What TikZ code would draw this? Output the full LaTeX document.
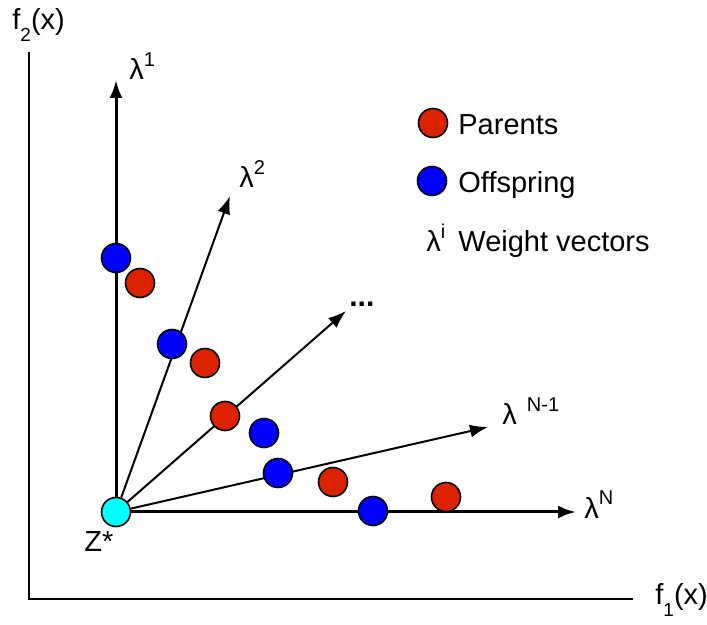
\documentclass[tikz,border=0pt]{standalone}
\usepackage{fontspec}
\setmainfont{Liberation Sans}
\usetikzlibrary{arrows.meta,positioning}
\definecolor{parentred}{RGB}{221,34,0}
\definecolor{offblue}{RGB}{0,0,255}
\definecolor{idealcyan}{RGB}{0,255,255}
\newcommand{\wsup}[1]{\raisebox{6.5pt}{\fontsize{10}{10}\selectfont #1}}
\newcommand{\wsub}[1]{\raisebox{-6pt}{\fontsize{9.5}{10}\selectfont #1}}

\begin{document}
\begin{tikzpicture}[x=0.5pt, y=-0.5pt,
    parent/.style={circle, draw, line width=0.8pt, fill=parentred, minimum size=14.5pt, inner sep=0pt},
    offspring/.style={circle, draw, line width=0.8pt, fill=offblue, minimum size=14.5pt, inner sep=0pt},
    ideal/.style={circle, draw, line width=0.8pt, fill=idealcyan, minimum size=14.5pt, inner sep=0pt},
    vec/.style={-{Latex[length=9pt,width=6.5pt]}, line width=1pt},
    axis/.style={line width=1.2pt},
    lbl/.style={font=\fontsize{14.5}{16}\selectfont, inner sep=0pt, anchor=base west}
]
\useasboundingbox (0,0) rectangle (707,625);

% axes
\coordinate (ytop) at (29,52);
\coordinate (xend) at (633,599);
\draw[axis] (ytop) |- (xend);
\node[lbl] (f2) at (12,30) {f\wsub{2}(x)};
\node[lbl] (f1) at (655,604) {f\wsub{1}(x)};

% reference point and weight vectors
\node[ideal] (z) at (116,512) {};
\node[lbl] (zlbl) at (84,552) {Z*};
\coordinate (w1) at (116,80);
\coordinate (w2) at (230,196);
\coordinate (w3) at (346,311);
\coordinate (w4) at (488,427);
\coordinate (w5) at (576,512);
\draw[vec, line width=1.5pt] (z) -- (w1);
\draw[vec] (z) -- (w2);
\draw[vec] (z) -- (w3);
\draw[vec] (z) -- (w4);
\draw[vec, line width=1.5pt] (z) -- (w5);
\node[lbl] (l1) at (129,80) {λ\wsup{1}};
\node[lbl] (l2) at (239,188) {λ\wsup{2}};
\node[lbl, font=\fontsize{15}{16}\selectfont\bfseries] (l3) at (349,307) {...};
\node[lbl] (l4) at (502,425) {λ\hspace{5pt}\wsup{N-1}};
\node[lbl] (l5) at (584,518) {λ\wsup{N}};

% population
\node[offspring] (o1) at (116,258) {};
\node[parent] (p1) at (140,283) {};
\node[offspring] (o2) at (172,344) {};
\node[parent] (p2) at (205,363) {};
\node[parent] (p3) at (225,416) {};
\node[offspring] (o3) at (264,433) {};
\node[offspring] (o4) at (278,473) {};
\node[parent] (p4) at (333,482) {};
\node[offspring] (o5) at (373,511) {};
\node[parent] (p5) at (446,497) {};

% legend
\node[parent] (legp) at (433,123) {};
\node[lbl] (legptxt) at (458,135) {Parents};
\node[offspring] (lego) at (432,181) {};
\node[lbl] (legotxt) at (458,193) {Offspring};
\node[lbl] (legl) at (426,252) {λ\wsup{i}};
\node[lbl] (legltxt) at (458,252) {Weight vectors};
\end{tikzpicture}
\end{document}
